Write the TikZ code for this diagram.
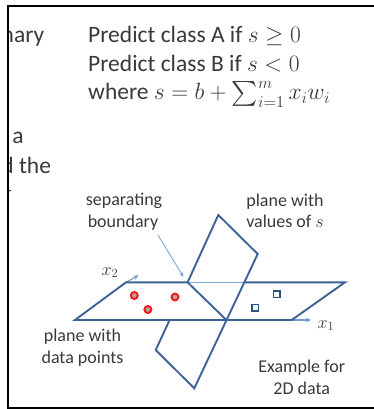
\RequirePackage{fix-cm}
\documentclass[tikz,border=0pt]{standalone}
\usepackage{amsmath}
\usepackage{fontspec}
\setmainfont{Carlito}
\usetikzlibrary{arrows.meta}
\definecolor{txt}{HTML}{3A3A3A}
\definecolor{planeblue}{HTML}{3D6396}
\definecolor{lightblue}{HTML}{7FA6D6}
\definecolor{ptred}{HTML}{F01818}
\definecolor{ptfill}{HTML}{B4A4A4}
\definecolor{sqblue}{HTML}{2E4F80}
\tikzset{
  bigtext/.style={text=txt, inner sep=0pt, anchor=base west, font=\fontsize{23.5}{28.5}\selectfont},
  lbl/.style={text=txt, inner sep=0pt, anchor=base, font=\fontsize{18}{21}\selectfont},
  planeline/.style={draw=planeblue, line width=1.9pt, line join=miter, line cap=butt},
  faintline/.style={draw=lightblue, line width=1.1pt},
  axisarrow/.style={draw=lightblue!80!planeblue, line width=1.1pt, -{Stealth[length=5pt,width=4.5pt]}},
  ptA/.style={draw=ptred, fill=ptfill, line width=1.9pt, circle, minimum size=7pt, inner sep=0pt},
  ptB/.style={draw=sqblue, fill=white, line width=1.5pt, rectangle, minimum size=6.5pt, inner sep=0pt},
}
\begin{document}
\begin{tikzpicture}[x=1pt,y=-1pt]
\useasboundingbox (0,0) rectangle (374,409);
\fill[white] (0,0) rectangle (374,409);
% cut-off text at left
\begin{scope}
\clip (8,0) rectangle (374,409);
\node[bigtext] (frag1) at (1.5,43) {nary};
\node[bigtext] (frag2) at (12.2,143.3) {a};
\node[bigtext] (frag3) at (1.2,173.3) {d the};
\end{scope}
\draw[txt, line width=1pt] (8.5,191) -- (11,190.5);
% frame
\draw[black, line width=2pt] (374,6) -- (7.5,6) -- (7.5,407.6) -- (374,407.6);
% conditions
\node[bigtext] (rules) at (88,43) {\begin{tabular}[t]{@{}l@{}}
Predict class A if $s \geq 0$\\
Predict class B if $s < 0$\\
where $s = b + \sum_{i=1}^{m} x_i w_i$
\end{tabular}};
% geometry
\coordinate (HBL) at (75,320);
\coordinate (HTL) at (126,282.3);
\coordinate (HTR) at (345,282.3);
\coordinate (HBR) at (291.7,320);
\coordinate (SB) at (187.6,282.3);
\coordinate (VR1) at (244.5,282.3);
\coordinate (Xcross) at (226.4,320);
\coordinate (VT) at (218.3,215);
\coordinate (VR) at (257.7,254);
\coordinate (VB) at (194.3,388.3);
\coordinate (VL) at (155.7,350);
\coordinate (VLc) at (169.6,320);
\coordinate (X1end) at (311,320);
\coordinate (X2end) at (138.5,275.3);
% axes
\draw[axisarrow] (HBR) -- (X1end);
\draw[axisarrow] (HTL) -- (X2end);
% hidden part of top edge
\draw[faintline] (SB) -- (VR1);
% horizontal plane
\draw[planeline] (VR1) -- (HTR) -- (HBR) -- (HBL) -- (HTL) -- (SB);
% vertical plane
\draw[planeline] (SB) -- (VT) -- (VR) -- (VB) -- (VL) -- (VLc);
% separating boundary line
\draw[planeline] (SB) -- (Xcross);
% data points
\node[ptA] (a1) at (134.3,295.5) {};
\node[ptA] (a2) at (147.9,309.5) {};
\node[ptA] (a3) at (175,297) {};
\node[ptB] (b1) at (255,307.7) {};
\node[ptB] (b2) at (276.7,294) {};
% labels
\node[lbl] (sep1) at (124,205.5) {separating};
\node[lbl] (sep2) at (123,227.5) {boundary};
\coordinate (ptrstart) at (158,235);
\coordinate (ptrend) at (183.5,277);
\draw[draw=lightblue, line width=0.9pt, -{Stealth[length=5pt,width=4pt]}] (ptrstart) -- (ptrend);
\node[lbl] (pv1) at (285,206) {plane with};
\node[lbl] (pv2) at (285,227.5) {values of $s$};
\node[lbl] (pd1) at (82.5,341.5) {plane with};
\node[lbl] (pd2) at (82.5,363.5) {data points};
\node[lbl] (ex1) at (301.7,372.5) {Example for};
\node[lbl] (ex2) at (301.7,394) {2D data};
\node[lbl] (x2) at (110,275) {$x_2$};
\node[lbl] (x1) at (326,328) {$x_1$};
\end{tikzpicture}
\end{document}
